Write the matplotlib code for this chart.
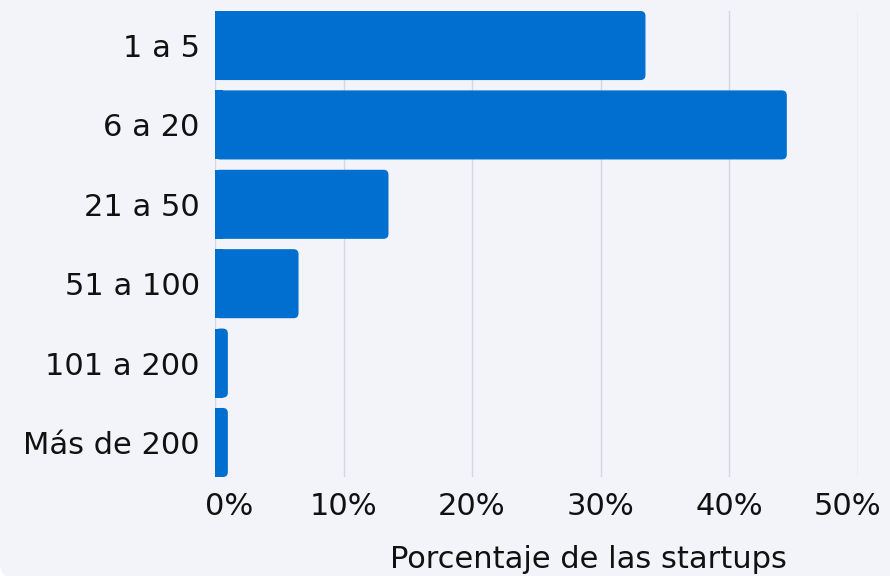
import matplotlib
matplotlib.use('Agg')
import matplotlib.pyplot as plt
import matplotlib.transforms as mtransforms
from matplotlib.patches import FancyBboxPatch

# ********** Data ************************
categories = ['1 a 5', '6 a 20', '21 a 50', '51 a 100', '101 a 200', 'Más de 200']
values = [33.5, 44.5, 13.5, 6.5, 1.0, 1.0]
x_ticks = [0, 10, 20, 30, 40, 50]
x_tick_labels = ['0%', '10%', '20%', '30%', '40%', '50%']
x_label = 'Porcentaje de las startups'
# ****************************************

BG = '#F3F4FA'
BAR = '#006FCF'
GRID = '#D6D7DE'
TXT = '#111111'
FS = 22


def main():
    plt.rcParams['font.family'] = ['DejaVu Sans']
    fig = plt.figure(figsize=(8.9, 5.76), dpi=100)
    fig.patch.set_facecolor('white')

    # rounded background panel
    bg = FancyBboxPatch((0, -3), 1000, 700, boxstyle='round,pad=0,rounding_size=16',
                        transform=mtransforms.IdentityTransform(),
                        facecolor=BG, edgecolor='none', zorder=-10)
    fig.patches.append(bg)

    ax = fig.add_axes([215 / 890, 99 / 576, 642.5 / 890, 466 / 576])
    ax.set_facecolor('none')

    h = 0.87
    ypos = list(range(len(categories)))
    bars = ax.barh(ypos, values, height=h, color=BAR, linewidth=0, zorder=3)

    ax.set_xlim(0, 50)
    ax.set_ylim(len(categories) - 1 + h / 2, -h / 2)

    # rounded right-hand corners
    r = 0.39
    aspect = (5 / 77.7) / r
    for b in bars:
        x, y, w, hh = b.get_x(), b.get_y(), b.get_width(), b.get_height()
        b.set_width(min(w, 1.5 * r))
        ax.add_patch(FancyBboxPatch((x, y), w, hh,
                                    boxstyle='round,pad=0,rounding_size=%g' % r,
                                    mutation_aspect=aspect,
                                    facecolor=BAR, edgecolor='none',
                                    linewidth=0, zorder=3))

    ax.set_yticks(ypos)
    ax.set_yticklabels(categories, fontsize=FS, color=TXT)
    ax.set_xticks(x_ticks)
    ax.set_xticklabels(x_tick_labels, fontsize=FS, color=TXT)
    ax.tick_params(axis='y', length=0, pad=11)
    ax.tick_params(axis='x', length=0, pad=11)

    labels = ax.get_xticklabels()
    labels[0].set_transform(labels[0].get_transform() +
                            mtransforms.ScaledTranslation(14 / 100, 0, fig.dpi_scale_trans))
    labels[-1].set_transform(labels[-1].get_transform() +
                             mtransforms.ScaledTranslation(-10 / 100, 0, fig.dpi_scale_trans))

    ax.grid(axis='x', color=GRID, linewidth=1, zorder=0)
    ax.grid(axis='y', visible=False)
    for s in ax.spines.values():
        s.set_visible(False)

    ax.set_xlabel(x_label, fontsize=FS, color=TXT)
    ax.xaxis.set_label_coords((588 - 215) / 642.5, -0.146)

    fig.savefig('out.png', dpi=100, facecolor=fig.get_facecolor())


if __name__ == '__main__':
    main()
